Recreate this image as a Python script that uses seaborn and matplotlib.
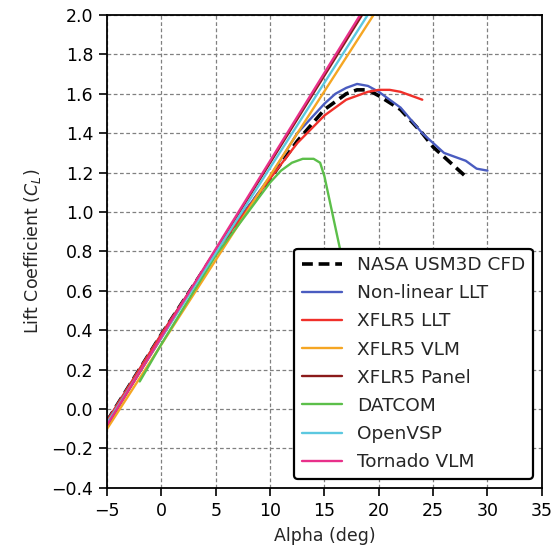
import numpy as np
import pandas as pd
import matplotlib
matplotlib.use("Agg")
import matplotlib.pyplot as plt
import seaborn as sns

# ---- data ----
cfd_alpha = [-5, 0, 5, 10, 12.5, 15, 17, 18, 19, 20, 22, 24, 25, 26, 28]
cfd_cl = [-0.06, 0.38, 0.80, 1.17, 1.36, 1.52, 1.60, 1.62, 1.62, 1.59, 1.52, 1.40, 1.33, 1.28, 1.18]

nllt_alpha = [-5, 0, 5, 10, 12.5, 15, 16, 17, 18, 19, 20, 22, 24, 25, 26, 28, 29, 30]
nllt_cl = [-0.06, 0.38, 0.80, 1.18, 1.40, 1.55, 1.60, 1.63, 1.65, 1.64, 1.61, 1.53, 1.40, 1.35, 1.30, 1.26, 1.22, 1.21]

xllt_alpha = [-5, 0, 5, 10, 12.5, 15, 17, 19, 20, 21, 22, 23, 24]
xllt_cl = [-0.06, 0.38, 0.80, 1.17, 1.35, 1.49, 1.57, 1.61, 1.62, 1.62, 1.61, 1.59, 1.57]

vlm_alpha = [-5, 25]
vlm_cl = [-0.10, 2.47]

panel_alpha = [-5, 25]
panel_cl = [-0.08, 2.58]

datcom_alpha = [-2, 0, 5, 10, 11, 12, 13, 14, 14.6, 15, 16.4, 17.4]
datcom_cl = [0.14, 0.33, 0.78, 1.15, 1.21, 1.25, 1.27, 1.27, 1.25, 1.18, 0.82, 0.57]

vsp_alpha = [-5, 25]
vsp_cl = [-0.07, 2.52]

tornado_alpha = [-5, 25]
tornado_cl = [-0.08, 2.60]

series = [
    ("NASA USM3D CFD", cfd_alpha, cfd_cl, "black", (0, (3, 1.6)), 2.6),
    ("Non-linear LLT", nllt_alpha, nllt_cl, "#4a5cc0", "-", 1.7),
    ("XFLR5 LLT", xllt_alpha, xllt_cl, "#f0302a", "-", 1.7),
    ("XFLR5 VLM", vlm_alpha, vlm_cl, "#f5a623", "-", 1.7),
    ("XFLR5 Panel", panel_alpha, panel_cl, "#8b1a1a", "-", 1.7),
    ("DATCOM", datcom_alpha, datcom_cl, "#5cbf4a", "-", 1.7),
    ("OpenVSP", vsp_alpha, vsp_cl, "#5cc8e0", "-", 1.7),
    ("Tornado VLM", tornado_alpha, tornado_cl, "#e8308a", "-", 1.7),
]

sns.set_style("ticks")
plt.rcParams["font.family"] = ["DejaVu Sans"]

fig = plt.figure(figsize=(5.58, 5.55), dpi=100)
ax = fig.add_axes([0.192, 0.121, 0.779, 0.852])

for name, a, c, col, ls, lw in series:
    df = pd.DataFrame({"alpha": a, "cl": c})
    sns.lineplot(data=df, x="alpha", y="cl", ax=ax, color=col, linestyle=ls,
                 linewidth=lw, label=name, sort=False, estimator=None)

ax.set_xlim(-5, 35)
ax.set_ylim(-0.4, 2.0)
ax.set_xticks(np.arange(-5, 36, 5))
yt = np.round(np.arange(-0.4, 2.01, 0.2), 1)
ax.set_yticks(yt)
ax.set_yticklabels([f"{v:.1f}".replace("-", "\u2212") for v in yt])
ax.grid(True, color="gray", linestyle=(0, (3, 2)), linewidth=0.9)
ax.set_axisbelow(True)
for s in ax.spines.values():
    s.set_linewidth(1.3)
    s.set_color("black")
ax.tick_params(labelsize=12.5, length=6, width=1.2, colors="black", pad=4)
ax.set_xlabel("Alpha (deg)", fontsize=12.5, labelpad=5)
ax.set_ylabel("Lift Coefficient ($C_L$)", fontsize=12.5, labelpad=6)

leg = ax.legend(loc="lower right", fontsize=13.3, frameon=True, framealpha=1,
                edgecolor="black", fancybox=True, handlelength=2.2,
                handletextpad=0.8, borderpad=0.4, labelspacing=0.55,
                borderaxespad=0.5)
leg.get_frame().set_linewidth(1.6)

fig.savefig("out.png", dpi=100)
